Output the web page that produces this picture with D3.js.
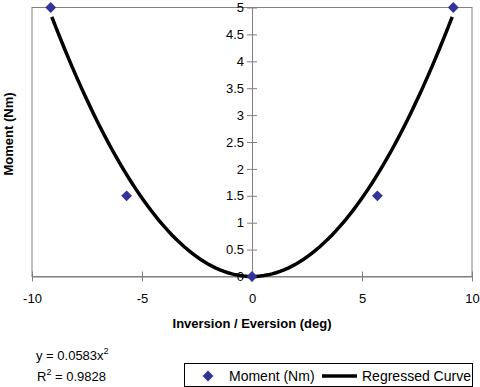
<!DOCTYPE html>
<html><head><meta charset="utf-8">
<script src="https://cdn.jsdelivr.net/npm/d3@7"></script>
<style>body{margin:0;background:#fff}svg{display:block;font-family:"Liberation Sans",Arial,sans-serif}</style>
</head><body>
<script>
const xValues = [-9.15, -5.7, 0, 5.7, 9.15];
const momentValues = [5, 1.5, 0, 1.5, 5];
const xTicks = [-10, -5, 0, 5, 10];
const yTicks = [0, 0.5, 1, 1.5, 2, 2.5, 3, 3.5, 4, 4.5, 5];
const coefA = 0.0583;
const curveRange = [-9.1, 9.1];
const curveSteps = d3.range(0, 101);

const W = 480, H = 387;
const m = {l: 32, r: 8, t: 7.5, b: 110.5};
const svg = d3.select("body").append("svg").attr("width", W).attr("height", H);
const x = d3.scaleLinear().domain([-10, 10]).range([m.l, W - m.r]);
const y = d3.scaleLinear().domain([0, 5]).range([H - m.b, m.t]);
const FF = "Liberation Sans, Arial, sans-serif";

// frame
svg.append("rect").attr("x", m.l).attr("y", m.t).attr("width", x(10) - x(-10)).attr("height", y(0) - y(5))
  .attr("fill", "none").attr("stroke", "#808080").attr("stroke-width", 1);

// x axis at y=0
const gx = svg.append("g").attr("transform", `translate(0,${y(0)})`)
  .call(d3.axisBottom(x).tickValues(xTicks).tickSize(0).tickFormat(d => String(d)));
gx.select(".domain").attr("stroke", "#808080");
gx.selectAll(".tick line").attr("y1", -5).attr("y2", 5).attr("stroke", "#808080");
gx.selectAll(".tick text").attr("y", 17).attr("font-size", 13).attr("fill", "#000").attr("font-family", FF);

// y axis at x=0
const gy = svg.append("g").attr("transform", `translate(${x(0)},0)`)
  .call(d3.axisLeft(y).tickValues(yTicks).tickSize(0).tickFormat(d => String(d)));
gy.select(".domain").attr("stroke", "#808080");
gy.selectAll(".tick line").attr("x1", -5).attr("x2", 5).attr("stroke", "#808080");
gy.selectAll(".tick text").attr("x", -8).attr("font-size", 13).attr("fill", "#000").attr("font-family", FF);

// curve
const curveData = curveSteps.map(i => {
  const xv = curveRange[0] + (curveRange[1] - curveRange[0]) * i / 100;
  return [xv, coefA * xv * xv];
});
svg.append("path").datum(curveData)
  .attr("d", d3.line().x(d => x(d[0])).y(d => y(d[1])))
  .attr("fill", "none").attr("stroke", "#000").attr("stroke-width", 3.5);

// points
const diamond = d3.symbol().type(d3.symbolDiamond2).size(75);
svg.selectAll(".pt").data(xValues).enter().append("path")
  .attr("transform", (d, i) => `translate(${x(d)},${y(momentValues[i])})`)
  .attr("d", diamond).attr("fill", "#333399");

// axis titles
svg.append("text").attr("x", x(0)).attr("y", 328).attr("text-anchor", "middle")
  .attr("font-size", 13).attr("font-weight", "bold").text("Inversion / Eversion (deg)");
svg.append("text").attr("transform", `translate(13,134) rotate(-90)`)
  .attr("text-anchor", "middle").attr("font-size", 13).attr("font-weight", "bold").text("Moment (Nm)");

// equation
const eq = svg.append("text").attr("x", 36).attr("y", 360).attr("font-size", 13);
eq.append("tspan").text("y = " + coefA + "x");
eq.append("tspan").attr("dy", -6).attr("font-size", 9).text("2");
const r2 = svg.append("text").attr("x", 37).attr("y", 381).attr("font-size", 13);
r2.append("tspan").text("R");
r2.append("tspan").attr("dy", -6).attr("font-size", 9).text("2");
r2.append("tspan").attr("dy", 6).text(" = 0.9828");

// legend
const lg = svg.append("g");
lg.append("rect").attr("x", 184.5).attr("y", 363.5).attr("width", 288).attr("height", 23)
  .attr("fill", "#fff").attr("stroke", "#000").attr("stroke-width", 1);
lg.append("path").attr("transform", "translate(208,376)").attr("d", diamond).attr("fill", "#333399");
lg.append("text").attr("x", 229).attr("y", 381).attr("font-size", 14).text("Moment (Nm)");
lg.append("line").attr("x1", 322).attr("x2", 357).attr("y1", 376).attr("y2", 376).attr("stroke", "#000").attr("stroke-width", 3.5);
lg.append("text").attr("x", 362).attr("y", 381).attr("font-size", 14).text("Regressed Curve");
</script>
</body></html>
